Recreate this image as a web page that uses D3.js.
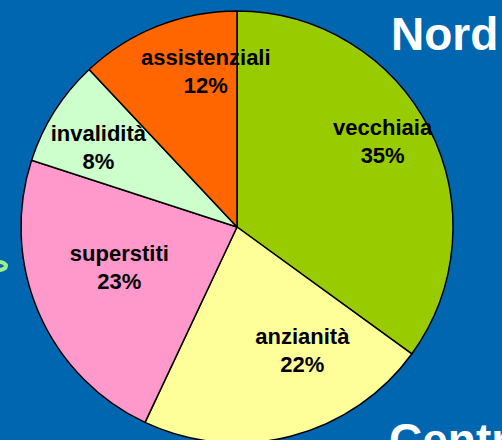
<!DOCTYPE html>
<html>
<head>
<meta charset="utf-8">
<script src="https://cdn.jsdelivr.net/npm/d3@7"></script>
<style>
    html, body { margin: 0; padding: 0; background: #0066b0; overflow: hidden; }
    svg { display: block; }
    .lbl { font-family: "Liberation Sans", Arial, sans-serif; font-weight: bold; font-size: 22px; fill: #000; }
    .title { font-family: "Liberation Sans", Arial, sans-serif; font-weight: bold; font-size: 46px; fill: #fff; }
</style>
</head>
<body>
<script>
// pension spending by type, Nord
let categories = ["vecchiaia", "anzianità", "superstiti", "invalidità", "assistenziali"];
let shares = [35, 22, 23, 8, 12];
let colors = ["#99cc00", "#ffff99", "#ff99cc", "#ccffcc", "#ff6600"];

let width = 502, height = 440;
let cx = 237, cy = 227, radius = 216;
// small per-label nudges (dx, dy) on top of the label arc, like excel "best fit"
let labelNudge = [[12, -18], [28, -22], [20, -20], [-12, 0], [24, -17]];

let svg = d3.select("body").append("svg")
    .attr("width", width)
    .attr("height", height);

// little ring peeking in from the left edge
svg.append("ellipse")
    .attr("cx", -1).attr("cy", 266)
    .attr("rx", 7).attr("ry", 4)
    .style("fill", "none")
    .style("stroke", "#a0f090")
    .style("stroke-width", 4);

let pie = d3.pie().sort(null).value(function(d) { return d; });
let arcs = pie(shares);

let arc = d3.arc().innerRadius(0).outerRadius(radius);
let labelArc = d3.arc().innerRadius(150).outerRadius(150);

let g = svg.append("g")
    .attr("transform", "translate(" + cx + "," + cy + ")");

g.selectAll("path")
    .data(arcs)
    .enter().append("path")
    .attr("d", arc)
    .style("fill", function(d, i) { return colors[i]; })
    .style("stroke", "#000")
    .style("stroke-width", 1.5)
    .style("stroke-linejoin", "round");

let labels = g.selectAll("text.lbl")
    .data(arcs)
    .enter().append("text")
    .attr("class", "lbl")
    .attr("text-anchor", "middle")
    .attr("transform", function(d, i) {
        let c = labelArc.centroid(d);
        return "translate(" + (c[0] + labelNudge[i][0]) + "," + (c[1] + labelNudge[i][1]) + ")";
    });

labels.append("tspan")
    .attr("x", 0).attr("y", -6)
    .text(function(d, i) { return categories[i]; });
labels.append("tspan")
    .attr("x", 0).attr("y", 22)
    .text(function(d) { return d.data + "%"; });

svg.append("text")
    .attr("class", "title")
    .attr("x", 391).attr("y", 50)
    .text("Nord");

svg.append("text")
    .attr("class", "title")
    .attr("x", 389).attr("y", 456)
    .text("Centro");
</script>
</body>
</html>
